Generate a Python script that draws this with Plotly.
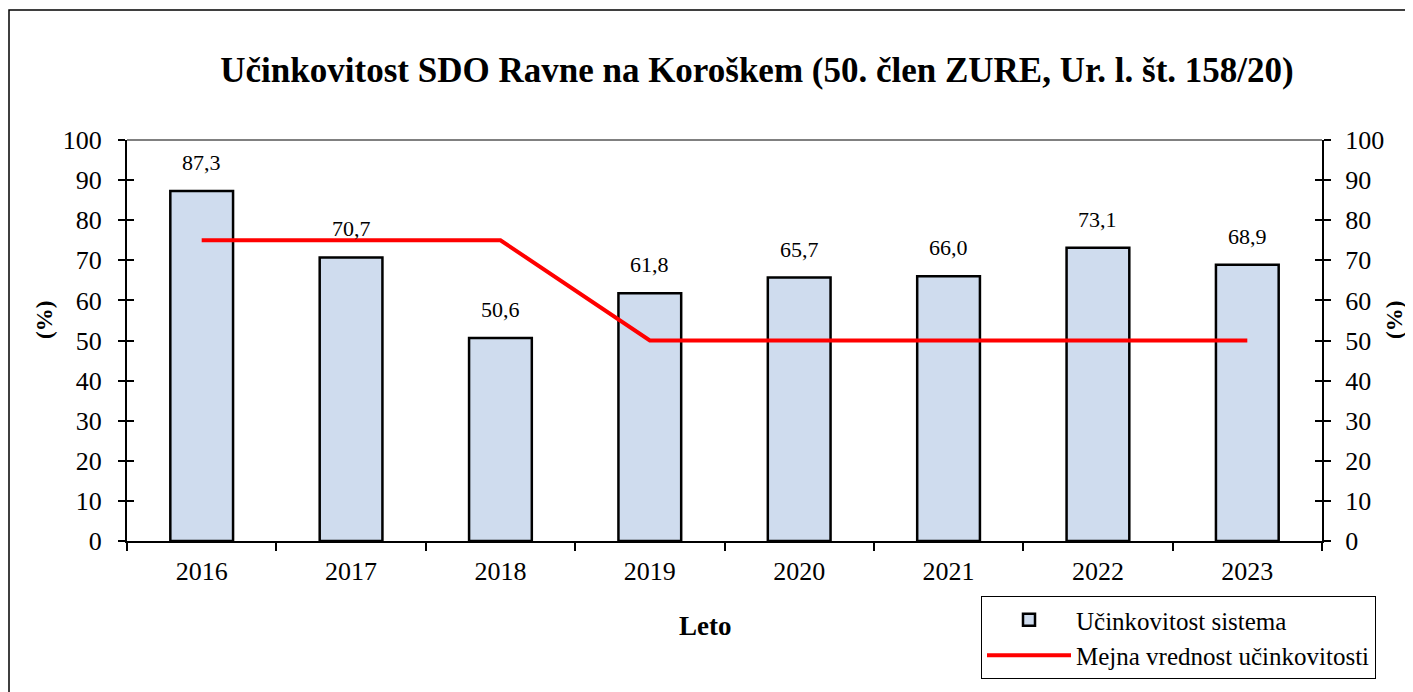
import plotly.graph_objects as go

years = ["2016", "2017", "2018", "2019", "2020", "2021", "2022", "2023"]
efficiency = [87.3, 70.7, 50.6, 61.8, 65.7, 66.0, 73.1, 68.9]
limit = [75, 75, 75, 50, 50, 50, 50, 50]
y_ticks = [0, 10, 20, 30, 40, 50, 60, 70, 80, 90, 100]

FONT = "Liberation Serif"
W, H = 1413, 692
L, R, T, B = 119, 99, 132, 159
PW, PH = W - L - R, H - T - B


def px(xs):
    return (xs - 8 - L) / PW


def py(ys):
    return (H - B - (ys - 8)) / PH


fig = go.Figure()
fig.add_trace(go.Bar(
    x=years, y=efficiency, name="Učinkovitost sistema",
    width=0.42,
    marker=dict(color="#cfdcee", line=dict(color="black", width=2.5)),
))
fig.add_trace(go.Scatter(
    x=years, y=limit, name="Mejna vrednost učinkovitosti",
    mode="lines", line=dict(color="#ff0000", width=4),
))
# invisible traces to bind the extra tick axes
for ax in ["y2", "y3", "y4"]:
    fig.add_trace(go.Scatter(x=years, y=limit, yaxis=ax, showlegend=False,
                             mode="lines", line=dict(width=0), hoverinfo="skip"))

for i, v in enumerate(efficiency):
    fig.add_annotation(x=i, y=v, text=f"{v:.1f}".replace(".", ","),
                       showarrow=False, yanchor="bottom", yshift=14,
                       font=dict(family=FONT, size=22, color="black"))

tickfont = dict(family=FONT, size=26, color="black")
common_y = dict(range=[0, 100], tickvals=y_ticks, showgrid=False, zeroline=False,
                tickcolor="black", tickwidth=1.5, ticklen=7, automargin=False)

fig.update_layout(
    width=W, height=H,
    paper_bgcolor="white", plot_bgcolor="white",
    margin=dict(l=L, r=R, t=T, b=B, autoexpand=False),
    title=dict(text="<b>Učinkovitost SDO Ravne na Koroškem (50. člen ZURE, Ur. l. št. 158/20)</b>",
               x=(757 - 8) / W, xanchor="center", y=1 - (70 - 8) / H, yanchor="middle",
               font=dict(family=FONT, size=35, color="black")),
    xaxis=dict(type="category", range=[-0.5, 7.5], showline=True, linecolor="black",
               linewidth=2, ticks="outside", tickson="boundaries", ticklen=8,
               tickcolor="black", tickwidth=1.5, tickfont=tickfont, showgrid=False,
               ticklabelstandoff=6, automargin=False),
    yaxis=dict(**common_y, ticks="outside", showline=True, linecolor="black", linewidth=2,
               tickfont=tickfont, ticklabelstandoff=11),
    yaxis2=dict(**common_y, overlaying="y", side="right", ticks="outside", showline=True,
                linecolor="black", linewidth=2, tickfont=tickfont, ticklabelstandoff=9),
    yaxis3=dict(**common_y, overlaying="y", side="left", ticks="inside", showticklabels=False),
    yaxis4=dict(**common_y, overlaying="y", side="right", ticks="inside", showticklabels=False),
    showlegend=True,
    legend=dict(x=px(981), y=py(596), xanchor="left", yanchor="top",
                bordercolor="black", borderwidth=1, bgcolor="white",
                font=dict(family=FONT, size=25, color="black"),
                itemwidth=84, tracegroupgap=0, entrywidth=357),
)

# axis titles
for xs in (44, 1394):
    fig.add_annotation(text="<b>(%)</b>", xref="paper", yref="paper",
                       x=px(xs), y=py(320), showarrow=False, textangle=-90,
                       xanchor="center", yanchor="middle",
                       font=dict(family=FONT, size=23, color="black"))

fig.add_annotation(text="<b>Leto</b>", xref="paper", yref="paper",
                   x=px(705), y=py(626), showarrow=False,
                   xanchor="center", yanchor="middle",
                   font=dict(family=FONT, size=27, color="black"))

# gray top border of plot area
fig.add_shape(type="line", xref="paper", yref="paper", x0=0, x1=1, y0=1, y1=1,
              line=dict(color="#808080", width=2))
# outer chart border
fig.add_shape(type="rect", xref="paper", yref="paper",
              x0=px(9), x1=px(1430), y0=py(710), y1=py(10),
              line=dict(color="black", width=1.5), layer="below")

fig.write_html("out.html")
